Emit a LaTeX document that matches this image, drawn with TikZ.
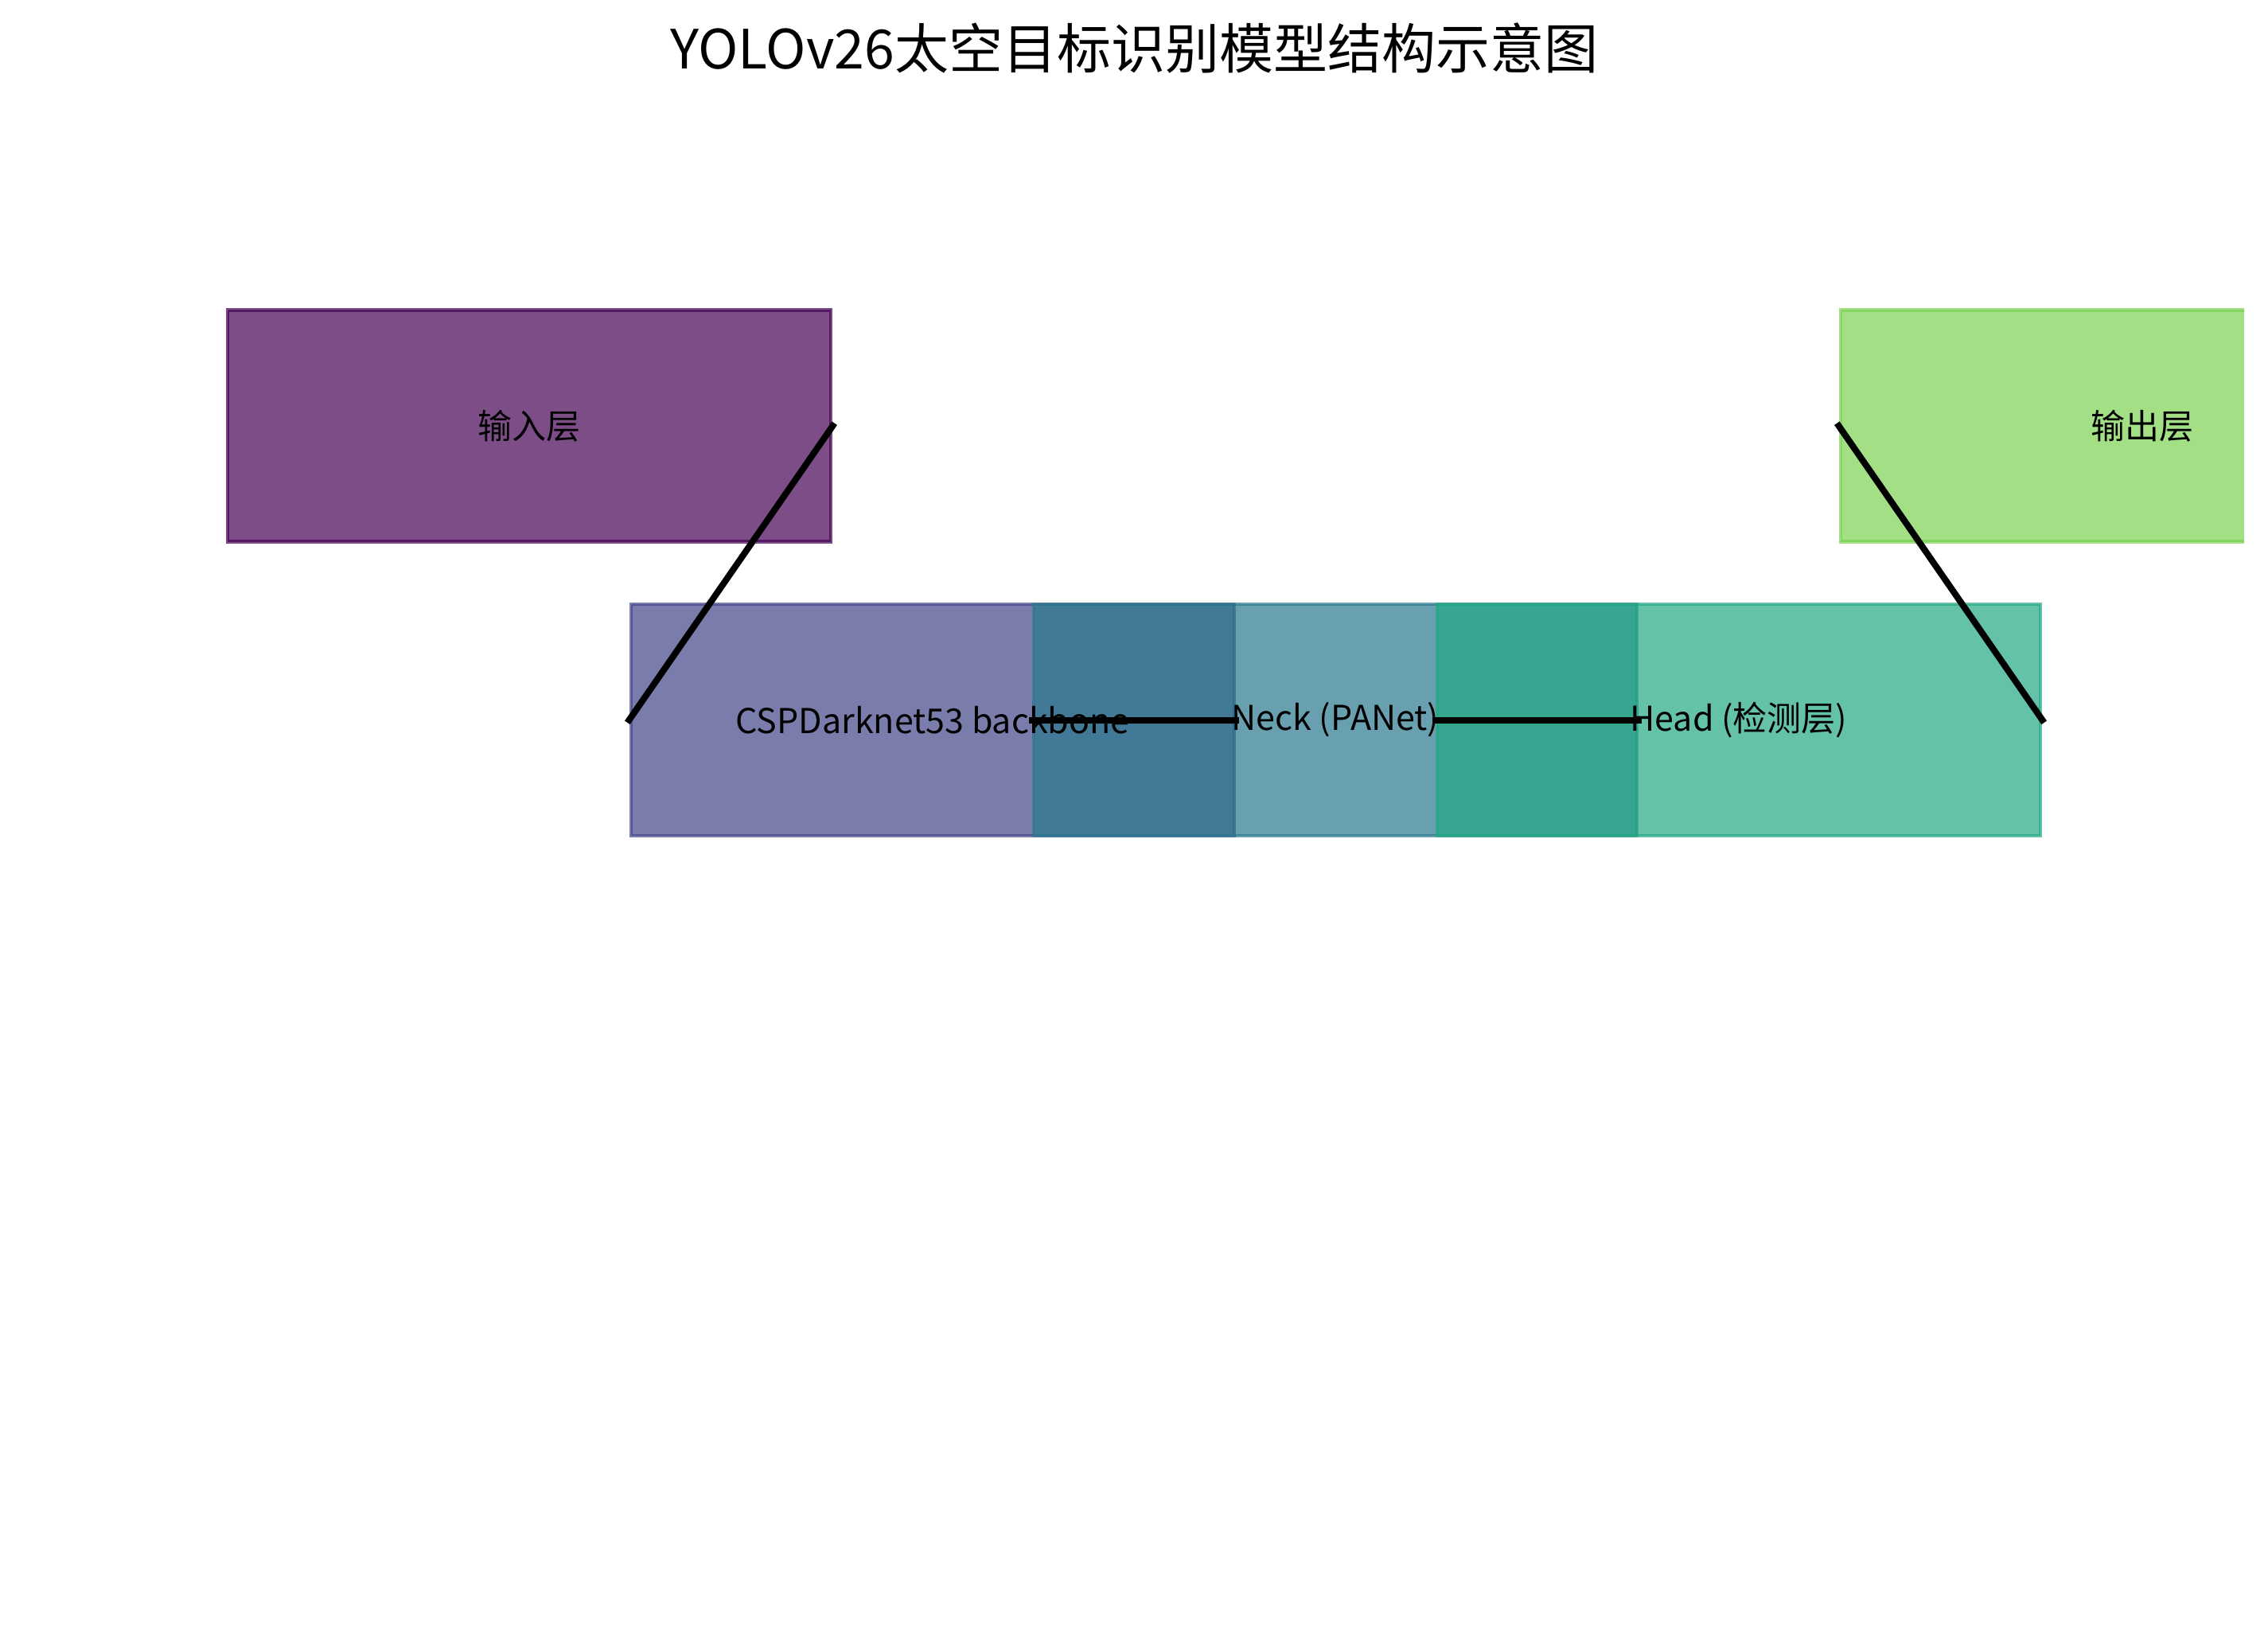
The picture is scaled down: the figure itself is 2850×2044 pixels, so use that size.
\documentclass[tikz,border=0pt]{standalone}
\usepackage{fontspec}
\setmainfont{Noto Sans CJK SC}
\definecolor{vA}{HTML}{440154}
\definecolor{vB}{HTML}{414487}
\definecolor{vC}{HTML}{2A788E}
\definecolor{vD}{HTML}{22A884}
\definecolor{vE}{HTML}{7AD151}
\begin{document}
\begin{tikzpicture}[x=0.25pt,y=-0.25pt,
  layerbox/.style={rectangle, draw=#1, fill=#1, fill opacity=0.7, draw opacity=0.7,
    line width=1.2pt, minimum width=189.5pt, minimum height=72.75pt, inner sep=0pt},
  layerlabel/.style={inner sep=0pt, font=\fontsize{10.75pt}{13pt}\selectfont},
  titlestyle/.style={inner sep=0pt, font=\fontsize{17pt}{21pt}\selectfont},
  link/.style={line width=2pt, black, line cap=rect}]
\useasboundingbox (0,0) rectangle (2850,2044);
\node[titlestyle] (title) at (1425,60) {YOLOv26太空目标识别模型结构示意图};
\node[layerbox=vA] (input) at (665,535) {};
\node[layerbox=vB] (backbone) at (1172,904.5) {};
\node[layerbox=vC] (neck) at (1678,904.5) {};
\node[layerbox=vD] (head) at (2185,904.5) {};
\begin{scope}
  \clip (0,0) rectangle (2820,2044);
  \node[layerbox=vE] (output) at (2692,535) {};
\end{scope}
\draw[link] (input.east) -- (backbone.west);
\draw[link] (neck.west) -- (backbone.east);
\draw[link] (head.west) -- (neck.east);
\draw[link] (head.east) -- (output.west);
\node[layerlabel] (inputlabel) at (input.center) {输入层};
\node[layerlabel] (backbonelabel) at (backbone.center) {CSPDarknet53 backbone};
\node[layerlabel] (necklabel) at (neck.center) {Neck (PANet)};
\node[layerlabel] (headlabel) at (head.center) {Head (检测层)};
\node[layerlabel] (outputlabel) at (output.center) {输出层};
\end{tikzpicture}
\end{document}
